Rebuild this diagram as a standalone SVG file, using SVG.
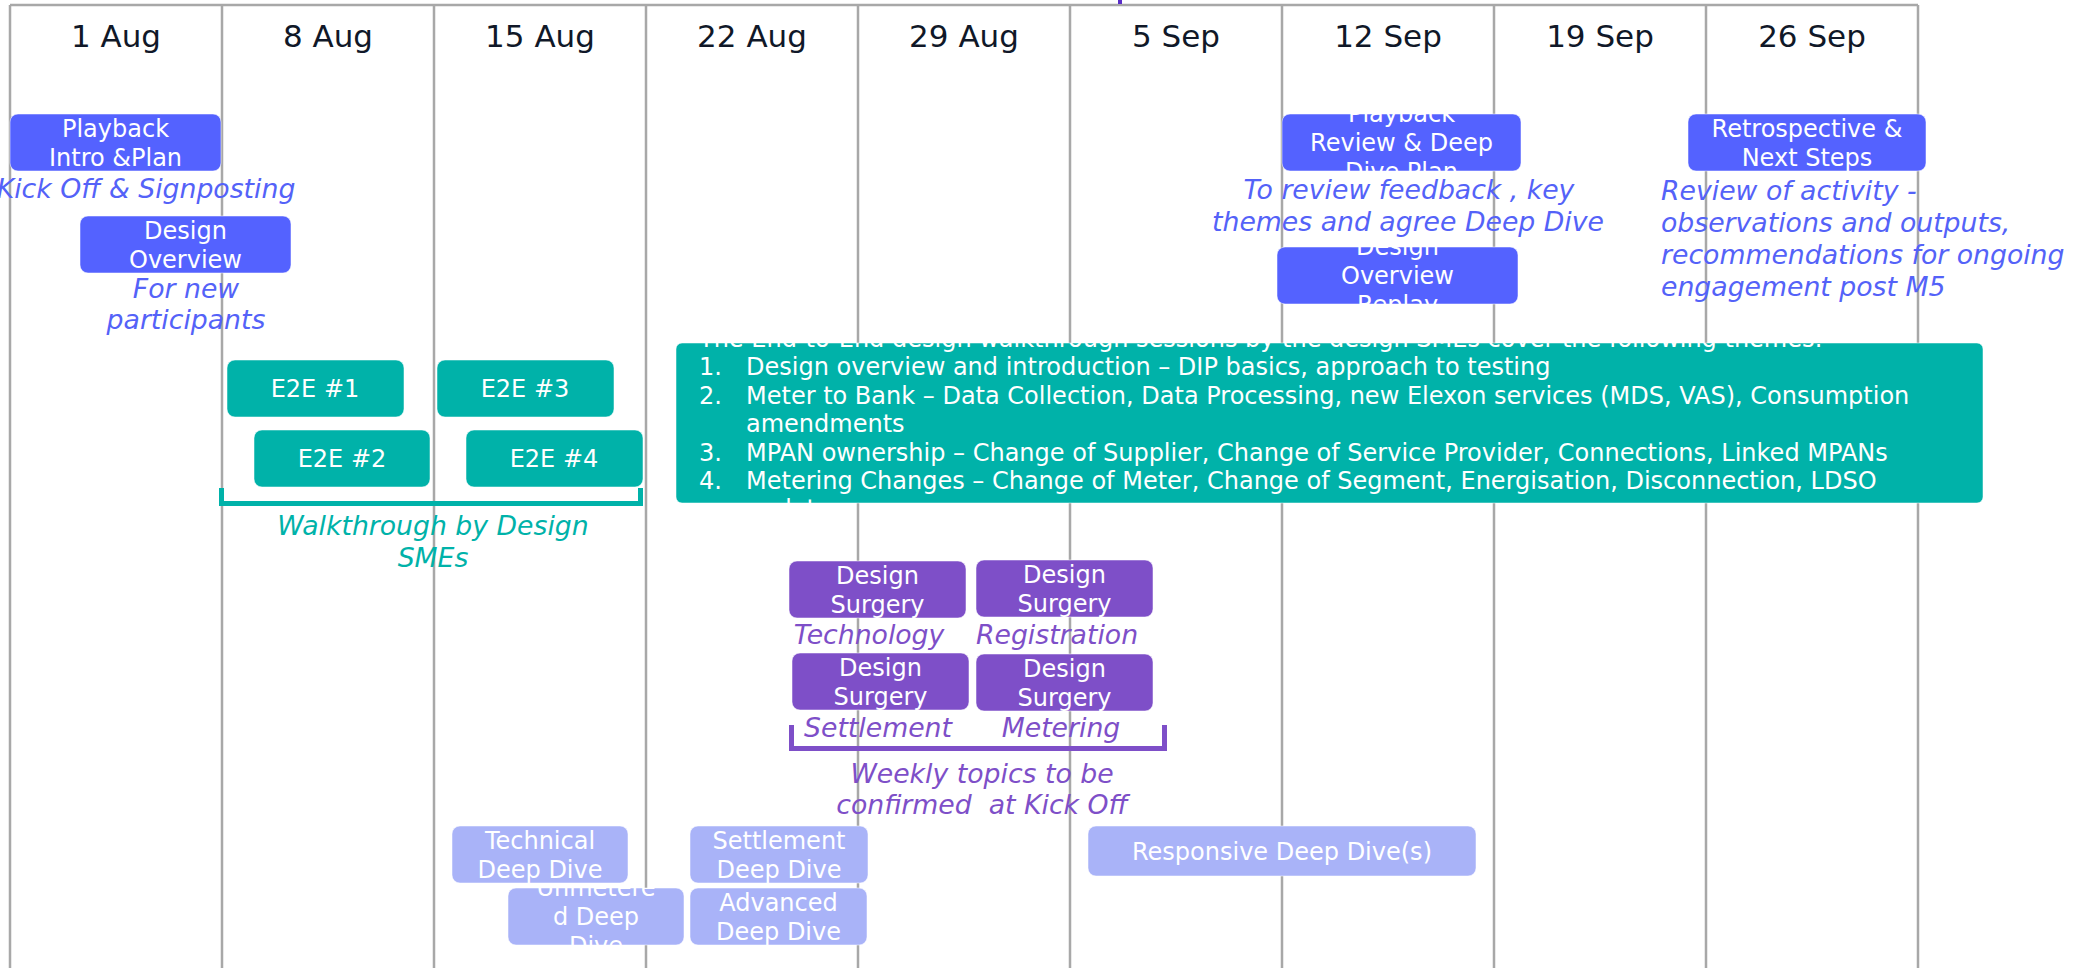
<svg xmlns="http://www.w3.org/2000/svg" width="2083" height="968" viewBox="0 0 2083 968">
<style>
  .grid { stroke:#A8A8A8; stroke-width:2.5; fill:none; }
  .date { font-family:"DejaVu Sans","Liberation Sans",sans-serif; font-size:31px; fill:#101828; text-anchor:middle; }
  .bt { font-family:"DejaVu Sans","Liberation Sans",sans-serif; font-size:24px; fill:#FFFFFF; text-anchor:middle; }
  .lt { font-family:"DejaVu Sans","Liberation Sans",sans-serif; font-size:24px; fill:#FFFFFF; }
  .lab { font-family:"DejaVu Sans","Liberation Sans",sans-serif; font-size:26.7px; font-style:italic; text-anchor:middle; }
  .start { text-anchor:start; }
  .blue { fill:#5462FF; }
  .teal { fill:#00B2A9; }
  .purple { fill:#7E4FC8; }
  .light { fill:#A9B3F8; }
  .lb { fill:#5462F8; }
  .ltl { fill:#00B2A9; }
  .lp { fill:#7E4FC8; }
  .box { stroke:#FFFFFF; stroke-opacity:0.5; stroke-width:1; }
  .br { fill:none; stroke-width:5; }
</style>
<defs>
  <clipPath id="c-pb2"><rect x="1282" y="114" width="239" height="57" rx="8"/></clipPath>
  <clipPath id="c-dor"><rect x="1277" y="247" width="241" height="57" rx="8"/></clipPath>
  <clipPath id="c-unm"><rect x="508" y="888" width="176" height="57" rx="8"/></clipPath>
  <clipPath id="c-e2e"><rect x="676" y="343" width="1307" height="160" rx="6"/></clipPath>
</defs>
<rect x="0" y="0" width="2083" height="968" fill="#FFFFFF"/>
<g id="grid">
  <line class="grid" x1="10" y1="5" x2="1918" y2="5"/>
  <line class="grid" x1="10" y1="5" x2="10" y2="968"/>
  <line class="grid" x1="222" y1="5" x2="222" y2="968"/>
  <line class="grid" x1="434" y1="5" x2="434" y2="968"/>
  <line class="grid" x1="646" y1="5" x2="646" y2="968"/>
  <line class="grid" x1="858" y1="5" x2="858" y2="968"/>
  <line class="grid" x1="1070" y1="5" x2="1070" y2="968"/>
  <line class="grid" x1="1282" y1="5" x2="1282" y2="968"/>
  <line class="grid" x1="1494" y1="5" x2="1494" y2="968"/>
  <line class="grid" x1="1706" y1="5" x2="1706" y2="968"/>
  <line class="grid" x1="1918" y1="5" x2="1918" y2="968"/>
  <rect x="1118" y="0" width="4" height="4" fill="#5A2DC8"/>
</g>
<g id="dates">
  <text class="date" x="116" y="47">1 Aug</text>
  <text class="date" x="328" y="47">8 Aug</text>
  <text class="date" x="540" y="47">15 Aug</text>
  <text class="date" x="752" y="47">22 Aug</text>
  <text class="date" x="964" y="47">29 Aug</text>
  <text class="date" x="1176" y="47">5 Sep</text>
  <text class="date" x="1388" y="47">12 Sep</text>
  <text class="date" x="1600" y="47">19 Sep</text>
  <text class="date" x="1812" y="47">26 Sep</text>
</g>
<g id="playback-intro">
  <rect class="box blue" x="10" y="114" width="211" height="57" rx="8"/>
  <text class="bt" x="115.5" y="137">Playback</text>
  <text class="bt" x="115.5" y="166">Intro &amp;Plan</text>
  <text class="lab lb" x="146" y="198">Kick Off &amp; Signposting</text>
</g>
<g id="design-overview">
  <rect class="box blue" x="80" y="216" width="211" height="57" rx="8"/>
  <text class="bt" x="185.5" y="239">Design</text>
  <text class="bt" x="185.5" y="268">Overview</text>
  <text class="lab lb" x="186" y="298">For new</text>
  <text class="lab lb" x="186" y="329">participants</text>
</g>
<g id="playback-review">
  <rect class="box blue" x="1282" y="114" width="239" height="57" rx="8"/>
  <g clip-path="url(#c-pb2)">
    <text class="bt" x="1401.5" y="122">Playback</text>
    <text class="bt" x="1401.5" y="151">Review &amp; Deep</text>
    <text class="bt" x="1401.5" y="180">Dive Plan</text>
  </g>
  <text class="lab lb" x="1409" y="199">To review feedback , key</text>
  <text class="lab lb" x="1408" y="231">themes and agree Deep Dive</text>
</g>
<g id="design-overview-replay">
  <rect class="box blue" x="1277" y="247" width="241" height="57" rx="8"/>
  <g clip-path="url(#c-dor)">
    <text class="bt" x="1397.5" y="255">Design</text>
    <text class="bt" x="1397.5" y="284">Overview</text>
    <text class="bt" x="1397.5" y="313">Replay</text>
  </g>
</g>
<g id="retrospective">
  <rect class="box blue" x="1688" y="114" width="238" height="57" rx="8"/>
  <text class="bt" x="1807" y="137">Retrospective &amp;</text>
  <text class="bt" x="1807" y="166">Next Steps</text>
  <text class="lab start lb" x="1661" y="200">Review of activity -</text>
  <text class="lab start lb" x="1661" y="232">observations and outputs,</text>
  <text class="lab start lb" x="1661" y="264">recommendations for ongoing</text>
  <text class="lab start lb" x="1661" y="296">engagement post M5</text>
</g>
<g id="e2e-1">
  <rect class="box teal" x="227" y="360" width="177" height="57" rx="8"/>
  <text class="bt" x="315" y="397">E2E #1</text>
</g>
<g id="e2e-3">
  <rect class="box teal" x="437" y="360" width="177" height="57" rx="8"/>
  <text class="bt" x="525" y="397">E2E #3</text>
</g>
<g id="e2e-2">
  <rect class="box teal" x="254" y="430" width="176" height="57" rx="8"/>
  <text class="bt" x="342" y="467">E2E #2</text>
</g>
<g id="e2e-4">
  <rect class="box teal" x="466" y="430" width="177" height="57" rx="8"/>
  <text class="bt" x="554" y="467">E2E #4</text>
</g>
<g id="e2e-themes">
  <rect class="box teal" x="676" y="343" width="1307" height="160" rx="6"/>
  <g clip-path="url(#c-e2e)">
    <text class="lt" x="699" y="347">The End-to-End design walkthrough sessions by the design SMEs cover the following themes:</text>
    <text class="lt" x="699" y="375">1.</text>
    <text class="lt" x="746" y="375">Design overview and introduction – DIP basics, approach to testing</text>
    <text class="lt" x="699" y="403.5">2.</text>
    <text class="lt" x="746" y="403.5">Meter to Bank – Data Collection, Data Processing, new Elexon services (MDS, VAS), Consumption</text>
    <text class="lt" x="746" y="432">amendments</text>
    <text class="lt" x="699" y="460.5">3.</text>
    <text class="lt" x="746" y="460.5">MPAN ownership – Change of Supplier, Change of Service Provider, Connections, Linked MPANs</text>
    <text class="lt" x="699" y="488.5">4.</text>
    <text class="lt" x="746" y="488.5">Metering Changes – Change of Meter, Change of Segment, Energisation, Disconnection, LDSO</text>
    <text class="lt" x="746" y="517">updates</text>
  </g>
</g>
<g id="ds-technology">
  <rect class="box purple" x="789" y="561" width="177" height="57" rx="8"/>
  <text class="bt" x="877.5" y="584">Design</text>
  <text class="bt" x="877.5" y="613">Surgery</text>
  <text class="lab lp" x="869" y="644">Technology</text>
</g>
<g id="ds-registration">
  <rect class="box purple" x="976" y="560" width="177" height="57" rx="8"/>
  <text class="bt" x="1064.5" y="583">Design</text>
  <text class="bt" x="1064.5" y="612">Surgery</text>
  <text class="lab lp" x="1057" y="644">Registration</text>
</g>
<g id="ds-settlement">
  <rect class="box purple" x="792" y="653" width="177" height="57" rx="8"/>
  <text class="bt" x="880.5" y="676">Design</text>
  <text class="bt" x="880.5" y="705">Surgery</text>
  <text class="lab lp" x="878" y="737">Settlement</text>
</g>
<g id="ds-metering">
  <rect class="box purple" x="976" y="654" width="177" height="57" rx="8"/>
  <text class="bt" x="1064.5" y="677">Design</text>
  <text class="bt" x="1064.5" y="706">Surgery</text>
  <text class="lab lp" x="1061" y="737">Metering</text>
</g>
<g id="brackets">
  <path class="br" stroke="#00B2A9" d="M221.5,488 V503.5 H640.5 V488"/>
  <path class="br" stroke="#7E4FC8" d="M791.5,725 V748.5 H1164.5 V725"/>
  <text class="lab ltl" x="433" y="535">Walkthrough by Design</text>
  <text class="lab ltl" x="433" y="567">SMEs</text>
  <text class="lab lp" x="982" y="783">Weekly topics to be</text>
  <text class="lab lp" x="982" y="814" xml:space="preserve">confirmed  at Kick Off</text>
</g>
<g id="technical-dd">
  <rect class="box light" x="452" y="826" width="176" height="57" rx="8"/>
  <text class="bt" x="540" y="849">Technical</text>
  <text class="bt" x="540" y="878">Deep Dive</text>
</g>
<g id="settlement-dd">
  <rect class="box light" x="690" y="826" width="178" height="57" rx="8"/>
  <text class="bt" x="779" y="849">Settlement</text>
  <text class="bt" x="779" y="878">Deep Dive</text>
</g>
<g id="unmetered-dd">
  <rect class="box light" x="508" y="888" width="176" height="57" rx="8"/>
  <g clip-path="url(#c-unm)">
    <text class="bt" x="596" y="896">Unmetere</text>
    <text class="bt" x="596" y="925">d Deep</text>
    <text class="bt" x="596" y="954">Dive</text>
  </g>
</g>
<g id="advanced-dd">
  <rect class="box light" x="690" y="888" width="177" height="57" rx="8"/>
  <text class="bt" x="778.5" y="911">Advanced</text>
  <text class="bt" x="778.5" y="940">Deep Dive</text>
</g>
<g id="responsive-dd">
  <rect class="box light" x="1088" y="826" width="388" height="50" rx="8"/>
  <text class="bt" x="1282" y="860">Responsive Deep Dive(s)</text>
</g>
</svg>
